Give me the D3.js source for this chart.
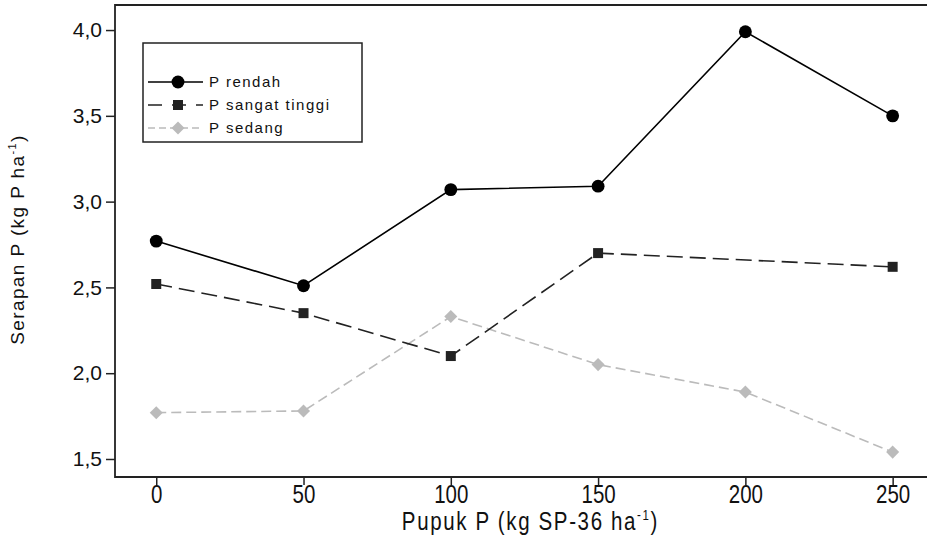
<!DOCTYPE html>
<html>
<head>
<meta charset="utf-8">
<script src="https://cdn.jsdelivr.net/npm/d3@7"></script>
<style>
  body { margin: 0; background: #fff; }
  svg { display: block; }
  .ytick text { font-family: "Liberation Sans", Arial, sans-serif; font-size: 21px; }
  .xtick text { font-family: "Liberation Sans", Arial, sans-serif; font-size: 25px; }
  .legend text { font-family: "Liberation Sans", Arial, sans-serif; font-size: 15px; letter-spacing: 1.5px; }
</style>
</head>
<body>
<div id="chart"></div>
<script>
// data
var dosis = [0, 50, 100, 150, 200, 250];
var pRendah = [2.77, 2.51, 3.07, 3.09, 3.99, 3.50];
var pSangatTinggi = [2.52, 2.35, 2.10, 2.70, null, 2.62];
var pSedang = [1.77, 1.78, 2.33, 2.05, 1.89, 1.54];
var yTicks = [1.5, 2.0, 2.5, 3.0, 3.5, 4.0];
var xTicks = [0, 50, 100, 150, 200, 250];

var width = 927, height = 548;
var margin = {top: 5, right: -1, bottom: 71, left: 115};

var svg = d3.select("#chart")
  .append("svg")
    .attr("width", width)
    .attr("height", height);

var x = d3.scaleLinear()
  .domain([-14, 262])
  .range([margin.left, width - margin.right]);

var y = d3.scaleLinear()
  .domain([1.395, 4.146])
  .range([height - margin.bottom, margin.top]);

var fmt = function(d) { return d3.format(".1f")(d).replace(".", ","); };

// frame (left, top, bottom) - right side runs off the picture
svg.append("path")
  .attr("d", "M" + x.range()[1] + "," + y.range()[1] +
             "H" + x.range()[0] + "V" + y.range()[0] + "H" + x.range()[1])
  .attr("fill", "none")
  .attr("stroke", "#222")
  .attr("stroke-width", 1.8);

// y axis
var yAxis = svg.append("g")
  .attr("class", "ytick")
  .attr("transform", "translate(" + x.range()[0] + ",0)")
  .call(d3.axisLeft(y).tickValues(yTicks).tickFormat(fmt).tickSize(9).tickPadding(4));
yAxis.select(".domain").remove();
yAxis.selectAll("line").attr("stroke", "#222").attr("stroke-width", 1.5);
yAxis.selectAll("text").attr("fill", "#111");

// x axis - condensed labels like the original
var xAxis = svg.append("g")
  .attr("class", "xtick")
  .attr("transform", "translate(0," + y.range()[0] + ")")
  .call(d3.axisBottom(x).tickValues(xTicks).tickFormat(d3.format("d")).tickSize(8).tickPadding(0));
xAxis.select(".domain").remove();
xAxis.selectAll("line").attr("stroke", "#222").attr("stroke-width", 1.5);
xAxis.selectAll("text").attr("fill", "#111").attr("transform", "scale(0.82,1)");

// axis titles
var yTitle = svg.append("text")
  .attr("transform", "translate(24," + (y(2.75) - 5) + ") rotate(-90)")
  .attr("text-anchor", "middle")
  .style("font-family", "Liberation Sans, Arial, sans-serif")
  .style("font-size", "19px")
  .style("letter-spacing", "1.4px")
  .attr("fill", "#111");
yTitle.append("tspan").text("Serapan P (kg P ha");
yTitle.append("tspan").attr("dy", -8).style("font-size", "11px").text("-1");
yTitle.append("tspan").attr("dy", 8).text(")");

var xTitle = svg.append("g")
  .attr("transform", "translate(" + (x(125) + 6) + ",530) scale(0.82,1)")
  .append("text")
  .attr("text-anchor", "middle")
  .style("font-family", "Liberation Sans, Arial, sans-serif")
  .style("font-size", "25px")
  .style("letter-spacing", "2px")
  .attr("fill", "#111");
xTitle.append("tspan").text("Pupuk P (kg SP-36 ha");
xTitle.append("tspan").attr("dy", -10).style("font-size", "14px").text("-1");
xTitle.append("tspan").attr("dy", 10).text(")");

// series
var series = [
  {name: "P rendah", values: pRendah, color: "#000", dash: null, legDash: null, width: 1.6, shape: "circle"},
  {name: "P sangat tinggi", values: pSangatTinggi, color: "#222", dash: "16,7", legDash: "14,10", width: 1.6, shape: "square"},
  {name: "P sedang", values: pSedang, color: "#bbb", dash: "10,5", legDash: "7,4", width: 1.6, shape: "diamond"}
];

var symbols = {
  circle: d3.symbol().type(d3.symbolCircle).size(130),
  square: d3.symbol().type(d3.symbolSquare).size(100),
  diamond: d3.symbol().type(d3.symbolSquare).size(85)
};
var rot = function(shape) { return shape == "diamond" ? " rotate(45)" : ""; };

var line = d3.line()
  .x(function(d) { return x(d.x); })
  .y(function(d) { return y(d.v); });

// draw back to front: sedang, sangat tinggi, rendah
series.slice().reverse().forEach(function(s) {
  var pts = dosis.map(function(d, i) { return {x: d, v: s.values[i]}; })
                 .filter(function(p) { return p.v != null; });
  svg.append("path")
    .datum(pts)
    .attr("d", line)
    .attr("fill", "none")
    .attr("stroke", s.color)
    .attr("stroke-width", s.width)
    .attr("stroke-dasharray", s.dash);
  svg.selectAll("mark-" + s.shape)
    .data(pts)
    .enter()
    .append("path")
      .attr("d", symbols[s.shape])
      .attr("transform", function(d) { return "translate(" + x(d.x) + "," + y(d.v) + ")" + rot(s.shape); })
      .attr("fill", s.color);
});

// legend
var legend = svg.append("g").attr("class", "legend");
legend.append("rect")
  .attr("x", 143).attr("y", 43)
  .attr("width", 219).attr("height", 99)
  .attr("fill", "#fff")
  .attr("stroke", "#222")
  .attr("stroke-width", 1.5);

var rowY = d3.scalePoint().domain(series.map(function(s) { return s.name; })).range([82, 128]);

series.forEach(function(s) {
  var g = legend.append("g").attr("transform", "translate(0," + rowY(s.name) + ")");
  g.append("line")
    .attr("x1", 148).attr("x2", 203)
    .attr("stroke", s.color)
    .attr("stroke-width", s.width)
    .attr("stroke-dasharray", s.legDash);
  g.append("path")
    .attr("d", symbols[s.shape])
    .attr("transform", "translate(178,0)" + rot(s.shape))
    .attr("fill", s.color);
  g.append("text")
    .attr("x", 209)
    .attr("dy", "0.36em")
    .attr("fill", "#111")
    .text(s.name);
});
</script>
</body>
</html>
